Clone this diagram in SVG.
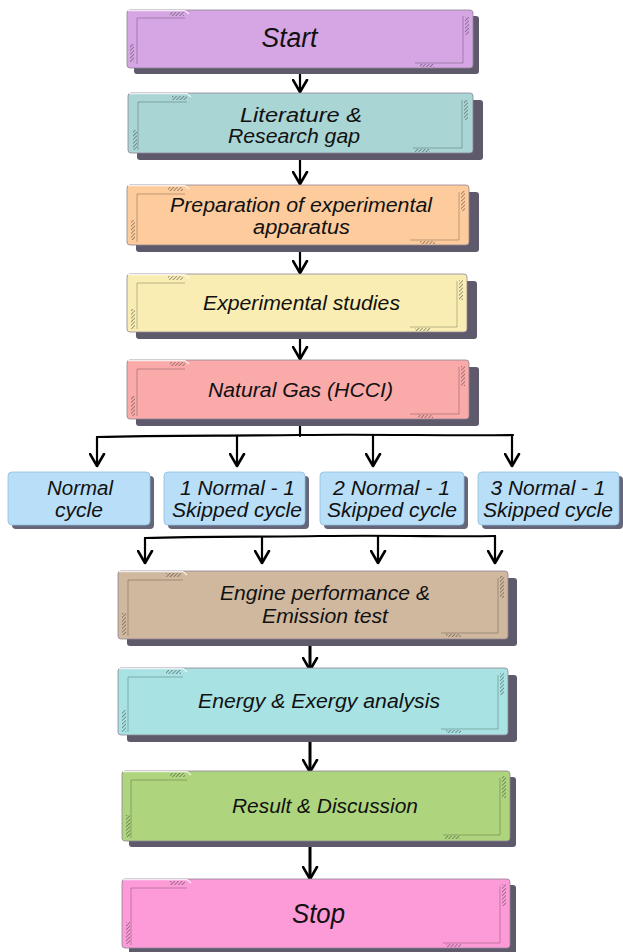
<svg xmlns="http://www.w3.org/2000/svg" width="623" height="952" viewBox="0 0 623 952">
<defs>
<pattern id="hatch" patternUnits="userSpaceOnUse" width="2.6" height="2.6" patternTransform="rotate(45)">
<line x1="0" y1="0" x2="0" y2="2.6" stroke="#333" stroke-width="0.9"/>
</pattern>
<marker id="arr" markerUnits="userSpaceOnUse" markerWidth="15" markerHeight="17" viewBox="0 0 15 17" refX="13" refY="8.5" orient="auto">
<path d="M1,1.5 L13,8.5 L1,15.5" fill="none" stroke="#000" stroke-width="2.6" stroke-linejoin="round" stroke-linecap="round"/>
</marker>
</defs>
<style>
.bg{fill:#ffffff}
.sh{fill:#5e5a6c}
.body{stroke:#8f8494;stroke-width:0.8}
.hi{fill:none;stroke:#ffffff;stroke-width:1.2;opacity:0.8}
.inner{fill:none;stroke:#000;stroke-opacity:0.28;stroke-width:0.9}
.hat{fill:url(#hatch)}
.t{font-family:"Liberation Sans",Arial,sans-serif;font-style:italic;font-size:20.5px;fill:#111;text-anchor:middle}
.tb{font-size:27px}
.small{fill:#b9def8;stroke:#8fbfe0;stroke-width:0.8}
.ssh{fill:#66667a}
.ln{fill:none;stroke:#000;stroke-width:2.2;stroke-linecap:round}
.ln3{fill:none;stroke:#000;stroke-width:3;stroke-linecap:round}
</style>
<rect class="bg" x="0" y="0" width="623" height="952"/>

<g id="connectors">
<line class="ln" x1="300" y1="68" x2="300" y2="92" marker-end="url(#arr)"/>
<line class="ln" x1="300" y1="154" x2="300" y2="184" marker-end="url(#arr)"/>
<line class="ln" x1="300" y1="246" x2="300" y2="273" marker-end="url(#arr)"/>
<line class="ln" x1="300" y1="333" x2="300" y2="359" marker-end="url(#arr)"/>
<line class="ln" x1="300" y1="420" x2="300" y2="436"/>
<path class="ln" d="M97,437 C160,435 230,436 300,435 C380,434 450,436 513,435"/>
<line class="ln" x1="97" y1="437" x2="97" y2="466" marker-end="url(#arr)"/>
<line class="ln" x1="237" y1="436" x2="237" y2="466" marker-end="url(#arr)"/>
<line class="ln" x1="373" y1="435" x2="373" y2="466" marker-end="url(#arr)"/>
<line class="ln" x1="512" y1="435" x2="512" y2="466" marker-end="url(#arr)"/>
<path class="ln" d="M145,538 C200,536 260,537 320,536 C400,535 450,537 495,536"/>
<line class="ln" x1="145" y1="538" x2="145" y2="563" marker-end="url(#arr)"/>
<line class="ln" x1="262" y1="537" x2="262" y2="563" marker-end="url(#arr)"/>
<line class="ln" x1="378" y1="536" x2="378" y2="563" marker-end="url(#arr)"/>
<line class="ln" x1="495" y1="536" x2="495" y2="563" marker-end="url(#arr)"/>
<line class="ln3" x1="310" y1="642" x2="310" y2="670" marker-end="url(#arr)"/>
<line class="ln3" x1="310" y1="742" x2="310" y2="772" marker-end="url(#arr)"/>
<line class="ln3" x1="310" y1="846" x2="310" y2="879" marker-end="url(#arr)"/>
</g>

<g id="start">
<rect class="sh" x="134" y="16" width="345" height="58" rx="3"/>
<rect class="body" x="127" y="10" width="346" height="58" rx="3" fill="#d5a6e3"/>
<path class="hi" d="M128,10.6 H185 L189,14"/>
<path class="inner" d="M185,18 H137 V64"/>
<path class="inner" d="M415,63 H463 V16"/>
<rect class="hat" x="170" y="12" width="14" height="4"/>
<rect class="hat" x="130" y="44" width="4" height="18"/>
<rect class="hat" x="465" y="17" width="4" height="18"/>
<rect class="hat" x="420" y="64" width="14" height="3"/>
<text class="t tb" x="289.5" y="47" textLength="56" lengthAdjust="spacingAndGlyphs">Start</text>
</g>

<g id="literature">
<rect class="sh" x="137" y="100" width="346" height="60" rx="3"/>
<rect class="body" x="128" y="93" width="345" height="60" rx="3" fill="#a9d5d5"/>
<path class="hi" d="M129,93.6 H187 L191,97"/>
<path class="inner" d="M187,102 H138 V150"/>
<path class="inner" d="M413,148 H462 V100"/>
<rect class="hat" x="172" y="96" width="15" height="4"/>
<rect class="hat" x="133" y="130" width="4" height="20"/>
<rect class="hat" x="464" y="100" width="4" height="20"/>
<rect class="hat" x="415" y="149" width="15" height="3"/>
<text class="t" x="301" y="122" textLength="122" lengthAdjust="spacingAndGlyphs">Literature &amp;</text>
<text class="t" x="294" y="143" textLength="132" lengthAdjust="spacingAndGlyphs">Research gap</text>
</g>

<g id="preparation">
<rect class="sh" x="136" y="192" width="343" height="60" rx="3"/>
<rect class="body" x="127" y="185" width="342" height="60" rx="3" fill="#fdcb9c"/>
<path class="hi" d="M128,185.6 H185 L189,189"/>
<path class="inner" d="M185,194 H137 V242"/>
<path class="inner" d="M410,240 H459 V192"/>
<rect class="hat" x="168" y="187" width="15" height="4"/>
<rect class="hat" x="131" y="220" width="4" height="20"/>
<rect class="hat" x="461" y="191" width="4" height="20"/>
<rect class="hat" x="420" y="241" width="15" height="3"/>
<text class="t" x="301" y="212" textLength="262" lengthAdjust="spacingAndGlyphs">Preparation of experimental</text>
<text class="t" x="301.5" y="234" textLength="97" lengthAdjust="spacingAndGlyphs">apparatus</text>
</g>

<g id="experimental">
<rect class="sh" x="136" y="281" width="341" height="58" rx="3"/>
<rect class="body" x="127" y="274" width="340" height="58" rx="3" fill="#f9edb3"/>
<path class="hi" d="M128,274.6 H185 L189,278"/>
<path class="inner" d="M185,283 H137 V329"/>
<path class="inner" d="M410,327 H457 V281"/>
<rect class="hat" x="168" y="276" width="15" height="4"/>
<rect class="hat" x="131" y="309" width="4" height="20"/>
<rect class="hat" x="459" y="280" width="4" height="20"/>
<rect class="hat" x="415" y="328" width="15" height="3"/>
<text class="t" x="301.5" y="310" textLength="197" lengthAdjust="spacingAndGlyphs">Experimental studies</text>
</g>

<g id="natural-gas">
<rect class="sh" x="136" y="367" width="343" height="59" rx="3"/>
<rect class="body" x="127" y="360" width="342" height="59" rx="3" fill="#fbaaaa"/>
<path class="hi" d="M128,360.6 H185 L189,364"/>
<path class="inner" d="M185,369 H137 V416"/>
<path class="inner" d="M410,414 H459 V367"/>
<rect class="hat" x="170" y="362" width="15" height="4"/>
<rect class="hat" x="131" y="396" width="4" height="20"/>
<rect class="hat" x="461" y="366" width="4" height="20"/>
<rect class="hat" x="418" y="415" width="15" height="3"/>
<text class="t" x="300.5" y="397" textLength="185" lengthAdjust="spacingAndGlyphs">Natural Gas (HCCI)</text>
</g>

<g id="normal-cycle">
<rect class="ssh" x="12" y="476" width="142" height="53" rx="4"/>
<rect class="small" x="8" y="472" width="142" height="53" rx="4"/>
<text class="t" x="80" y="495" textLength="66" lengthAdjust="spacingAndGlyphs">Normal</text>
<text class="t" x="79" y="517" textLength="48" lengthAdjust="spacingAndGlyphs">cycle</text>
</g>

<g id="one-normal-one-skipped">
<rect class="ssh" x="168" y="476" width="141" height="53" rx="4"/>
<rect class="small" x="164" y="472" width="141" height="53" rx="4"/>
<text class="t" x="237.5" y="495" textLength="115" lengthAdjust="spacingAndGlyphs">1 Normal - 1</text>
<text class="t" x="237" y="517" textLength="130" lengthAdjust="spacingAndGlyphs">Skipped cycle</text>
</g>

<g id="two-normal-one-skipped">
<rect class="ssh" x="324" y="476" width="144" height="53" rx="4"/>
<rect class="small" x="320" y="472" width="144" height="53" rx="4"/>
<text class="t" x="391.5" y="495" textLength="117" lengthAdjust="spacingAndGlyphs">2 Normal - 1</text>
<text class="t" x="392" y="517" textLength="130" lengthAdjust="spacingAndGlyphs">Skipped cycle</text>
</g>

<g id="three-normal-one-skipped">
<rect class="ssh" x="482" y="476" width="141" height="53" rx="4"/>
<rect class="small" x="478" y="472" width="141" height="53" rx="4"/>
<text class="t" x="548" y="495" textLength="115" lengthAdjust="spacingAndGlyphs">3 Normal - 1</text>
<text class="t" x="548" y="517" textLength="130" lengthAdjust="spacingAndGlyphs">Skipped cycle</text>
</g>

<g id="engine-performance">
<rect class="sh" x="127" y="578" width="390" height="68" rx="3"/>
<rect class="body" x="118" y="571" width="390" height="68" rx="3" fill="#d0b89e"/>
<path class="hi" d="M119,571.6 H183 L187,575"/>
<path class="inner" d="M183,580 H128 V636"/>
<path class="inner" d="M441,633 H498 V578"/>
<rect class="hat" x="166" y="573" width="15" height="4"/>
<rect class="hat" x="122" y="613" width="4" height="22"/>
<rect class="hat" x="500" y="576" width="4" height="22"/>
<rect class="hat" x="446" y="634" width="15" height="3"/>
<text class="t" x="325" y="600" textLength="210" lengthAdjust="spacingAndGlyphs">Engine performance &amp;</text>
<text class="t" x="325" y="623" textLength="126" lengthAdjust="spacingAndGlyphs">Emission test</text>
</g>

<g id="energy-exergy">
<rect class="sh" x="127" y="675" width="390" height="67" rx="3"/>
<rect class="body" x="118" y="668" width="390" height="67" rx="3" fill="#a8e2e3"/>
<path class="hi" d="M119,668.6 H183 L187,672"/>
<path class="inner" d="M183,677 H128 V732"/>
<path class="inner" d="M441,729 H498 V675"/>
<rect class="hat" x="166" y="670" width="15" height="4"/>
<rect class="hat" x="122" y="710" width="4" height="22"/>
<rect class="hat" x="500" y="673" width="4" height="22"/>
<rect class="hat" x="446" y="730" width="15" height="3"/>
<text class="t" x="319" y="708" textLength="242" lengthAdjust="spacingAndGlyphs">Energy &amp; Exergy analysis</text>
</g>

<g id="result-discussion">
<rect class="sh" x="129" y="777" width="387" height="70" rx="3"/>
<rect class="body" x="122" y="771" width="388" height="70" rx="3" fill="#aed57e"/>
<path class="hi" d="M123,771.6 H187 L191,775"/>
<path class="inner" d="M187,780 H131 V838"/>
<path class="inner" d="M443,835 H500 V778"/>
<rect class="hat" x="170" y="773" width="15" height="4"/>
<rect class="hat" x="126" y="815" width="4" height="22"/>
<rect class="hat" x="502" y="776" width="4" height="22"/>
<rect class="hat" x="445" y="836" width="15" height="3"/>
<text class="t" x="325" y="813" textLength="186" lengthAdjust="spacingAndGlyphs">Result &amp; Discussion</text>
</g>

<g id="stop">
<rect class="sh" x="129" y="885" width="387" height="69" rx="3"/>
<rect class="body" x="122" y="879" width="388" height="69" rx="3" fill="#fd9bd9"/>
<path class="hi" d="M123,879.6 H187 L191,883"/>
<path class="inner" d="M187,888 H131 V945"/>
<path class="inner" d="M443,943 H500 V886"/>
<rect class="hat" x="170" y="881" width="15" height="4"/>
<rect class="hat" x="126" y="922" width="4" height="22"/>
<rect class="hat" x="502" y="884" width="4" height="22"/>
<rect class="hat" x="446" y="944" width="15" height="3"/>
<text class="t tb" x="318.5" y="923" textLength="53" lengthAdjust="spacingAndGlyphs">Stop</text>
</g>
</svg>
